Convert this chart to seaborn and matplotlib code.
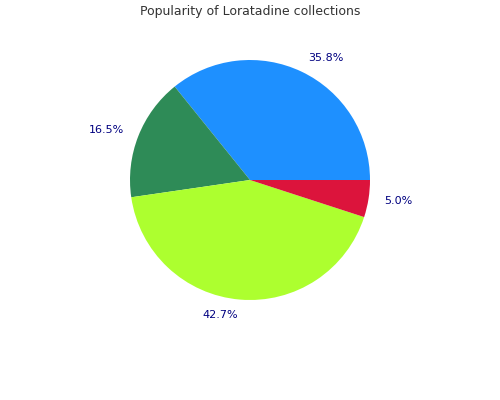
import matplotlib
matplotlib.use("Agg")
import matplotlib.pyplot as plt
import seaborn as sns

sns.set_theme(style="white")
plt.rcParams['font.family'] = ['DejaVu Sans']

categories = ["A", "B", "C", "D"]
values = [35.8, 16.5, 42.7, 5.0]
colors = ["#1e90ff", "#2e8b57", "#adff2f", "#dc143c"]
labels = [f"{v:.1f}%" for v in values]

fig = plt.figure(figsize=(5, 4), dpi=100)
fig.patch.set_facecolor("white")
ax = fig.add_axes([0.26, 0.25, 0.48, 0.6])
ax.pie(values, colors=colors, labels=labels, startangle=0, counterclock=True,
       labeldistance=1.13, wedgeprops=dict(linewidth=0),
       textprops=dict(color="#000080", fontsize=8))
ax.set_xlim(-1, 1)
ax.set_ylim(-1, 1)
ax.set_aspect("equal")
fig.text(0.5, 0.97, "Popularity of Loratadine collections", ha="center", va="center",
         fontsize=9, color="#333333")
fig.savefig("out.png", dpi=100)
